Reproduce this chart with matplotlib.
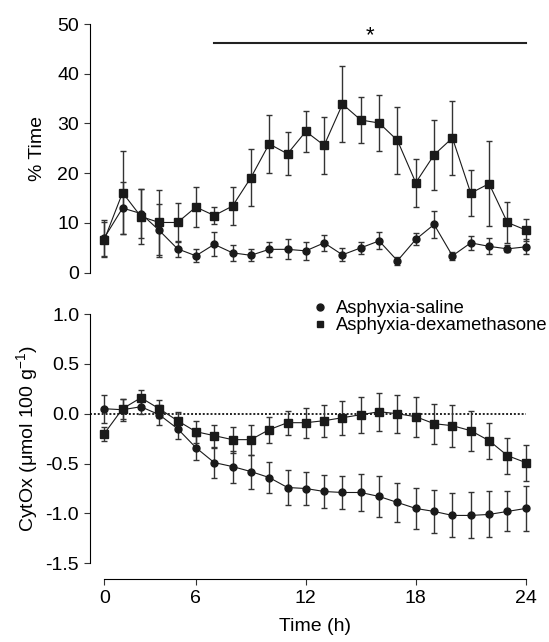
import matplotlib
matplotlib.use('Agg')
import matplotlib.pyplot as plt
from matplotlib.lines import Line2D

plt.rcParams['font.family'] = ['Liberation Sans', 'DejaVu Sans']
plt.rcParams['mathtext.fontset'] = 'custom'
plt.rcParams['mathtext.rm'] = 'Liberation Sans'
plt.rcParams['mathtext.it'] = 'Liberation Sans:italic'

# time points are drawn at equal spacing (index), labels at selected hours
idx = list(range(24))
tick_pos = [0, 5, 11, 17, 23]
tick_lab = ['0', '6', '12', '18', '24']

# % Time
saline_pct = [7.0, 13.0, 11.9, 8.5, 4.8, 3.4, 5.7, 4.0, 3.5, 4.7, 4.7, 4.4,
              6.0, 3.6, 5.0, 6.4, 2.4, 6.7, 9.7, 3.4, 6.0, 5.3, 4.8, 5.2]
saline_pct_err = [3.6, 5.3, 5.0, 5.3, 1.6, 1.3, 2.4, 1.6, 1.2, 1.5, 2.0, 1.8,
                  1.6, 1.3, 1.2, 1.7, 0.8, 1.2, 2.8, 0.8, 1.4, 1.6, 0.7, 1.5]
dexa_pct = [6.6, 16.1, 11.3, 10.1, 10.1, 13.2, 11.5, 13.4, 19.1, 25.9, 23.9, 28.4,
            25.6, 33.9, 30.7, 30.1, 26.6, 18.1, 23.7, 27.1, 16.0, 17.9, 10.1, 8.6]
dexa_pct_err = [3.5, 8.3, 5.5, 6.5, 3.9, 4.0, 1.7, 3.8, 5.7, 5.8, 4.3, 4.2,
                5.8, 7.7, 4.7, 5.7, 6.8, 4.8, 7.0, 7.5, 4.6, 8.5, 4.1, 2.3]

# CytOx
saline_cyt = [0.05, 0.04, 0.07, -0.01, -0.15, -0.34, -0.49, -0.53, -0.58, -0.64, -0.74, -0.75,
              -0.78, -0.79, -0.79, -0.83, -0.89, -0.95, -0.98, -1.02, -1.02, -1.01, -0.98, -0.95]
saline_cyt_err = [0.14, 0.11, 0.07, 0.10, 0.10, 0.12, 0.15, 0.16, 0.17, 0.16, 0.18, 0.17,
                  0.17, 0.17, 0.19, 0.21, 0.20, 0.21, 0.22, 0.22, 0.23, 0.23, 0.20, 0.23]
dexa_cyt = [-0.20, 0.05, 0.16, 0.05, -0.07, -0.18, -0.22, -0.26, -0.26, -0.16, -0.09, -0.09,
            -0.07, -0.04, -0.01, 0.02, 0.00, -0.03, -0.10, -0.12, -0.17, -0.27, -0.42, -0.49]
dexa_cyt_err = [0.07, 0.10, 0.08, 0.09, 0.09, 0.11, 0.11, 0.13, 0.15, 0.13, 0.12, 0.15,
                0.16, 0.17, 0.18, 0.19, 0.19, 0.20, 0.20, 0.21, 0.20, 0.18, 0.18, 0.18]

fig = plt.figure(figsize=(5.49, 6.42), dpi=100)
ax1 = fig.add_axes([0.1632, 0.5752, 0.8211, 0.3874])
ax2 = fig.add_axes([0.1632, 0.1226, 0.8211, 0.3883])

style = dict(color='#1a1a1a', ecolor='#333333', elinewidth=1, capsize=2.5,
             lw=0.8, capthick=1)

for ax, s, se, d, de in [(ax1, saline_pct, saline_pct_err, dexa_pct, dexa_pct_err),
                         (ax2, saline_cyt, saline_cyt_err, dexa_cyt, dexa_cyt_err)]:
    ax.errorbar(idx, s, yerr=se, marker='o', ms=5, **style)
    ax.errorbar(idx, d, yerr=de, marker='s', ms=5.5, **style)
    ax.set_xlim(-0.8, 23.8)
    for sp in ['top', 'right']:
        ax.spines[sp].set_visible(False)
    ax.tick_params(labelsize=14, length=4, width=0.8, color='#333333')
    ax.spines['left'].set_linewidth(0.8)

# top panel
ax1.set_ylim(0, 50)
ax1.set_yticks([0, 10, 20, 30, 40, 50])
ax1.spines['bottom'].set_visible(False)
ax1.set_xticks([])
ax1.set_ylabel('% Time', fontsize=14, labelpad=8)
ax1.plot([6, 23], [46.2, 46.2], color='#222222', lw=1.5, clip_on=False)
ax1.text(14.5, 45.6, '*', ha='center', va='bottom', fontsize=16, clip_on=False)

# bottom panel
ax2.set_ylim(-1.5, 1.0)
ax2.set_yticks([-1.5, -1.0, -0.5, 0.0, 0.5, 1.0])
ax2.set_yticklabels(['-1.5', '-1.0', '-0.5', '0.0', '0.5', '1.0'])
ax2.plot([-0.8, 23], [0, 0], color='#222222', lw=1.4, ls=(0, (1, 1)), zorder=1)
ax2.spines['bottom'].set_position(('outward', 11.5))
ax2.spines['bottom'].set_bounds(0, 23)
ax2.spines['bottom'].set_linewidth(0.8)
ax2.set_xticks(tick_pos)
ax2.set_xticklabels(tick_lab)
ax2.set_xlabel('Time (h)', fontsize=14, labelpad=8)
ax2.set_ylabel('CytOx (μmol 100 g$^{-1}$)', fontsize=14, labelpad=4)

handles = [Line2D([], [], ls='none', marker='o', ms=5, color='#1a1a1a'),
           Line2D([], [], ls='none', marker='s', ms=5, color='#1a1a1a')]
labels = ['Asphyxia-saline', 'Asphyxia-dexamethasone']
ax2.legend(handles, labels, loc='upper left', bbox_to_anchor=(0.572, 0.532),
           bbox_transform=fig.transFigure, frameon=False, fontsize=13.2,
           handlelength=0.6, handletextpad=0.6, labelspacing=0.0,
           borderaxespad=0, borderpad=0)

fig.savefig('out.png', dpi=100)
